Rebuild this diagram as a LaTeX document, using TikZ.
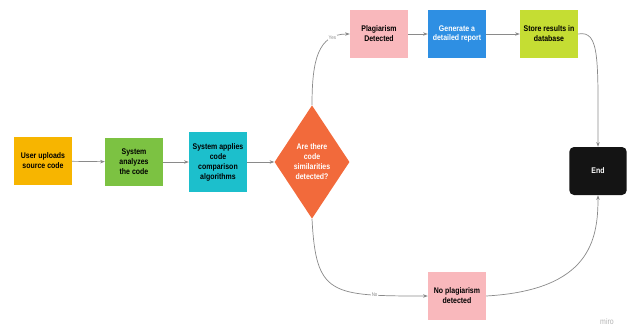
\documentclass[tikz,border=0pt]{standalone}
\usepackage{fontspec}
\setmainfont{Liberation Sans}[FakeStretch=0.85]
\usetikzlibrary{arrows.meta,shapes.geometric}

\definecolor{cyellow}{HTML}{F7B500}
\definecolor{cgreen}{HTML}{7CC242}
\definecolor{ccyan}{HTML}{1CBFCC}
\definecolor{corange}{HTML}{F26A3B}
\definecolor{cpink}{HTML}{F9B8BC}
\definecolor{cblue}{HTML}{2E8FE3}
\definecolor{clime}{HTML}{C5DD33}
\definecolor{cline}{HTML}{8A8A8A}

\tikzset{
    box/.style={rectangle, minimum width=1.74cm, minimum height=1.44cm, inner sep=1pt,
        align=center, font=\fontsize{7}{8.5}\selectfont\bfseries},
    link/.style={draw=cline, line width=0.6pt, -{Stealth[length=4pt,width=3pt]}},
    tag/.style={fill=white, inner sep=0.5pt, text=cline, font=\fontsize{4.5}{5}\selectfont}
}

\begin{document}
\begin{tikzpicture}[x=0.03cm, y=-0.03cm]
        \useasboundingbox (0,0) rectangle (627,331);
        \node[box, fill=cyellow] (a) at (43,161) {User uploads\\source code};
        \node[box, fill=cgreen] (b) at (134,162) {System\\analyzes\\the code};
        \node[box, fill=ccyan, minimum height=1.8cm] (c) at (218,162) {System applies\\code\\comparison\\algorithms};
        \node[diamond, fill=corange, minimum width=2.25cm, minimum height=3.4cm, inner sep=0pt,
            align=center, text=white,
            font=\fontsize{7}{8.5}\selectfont\bfseries] (d) at (312,162) {Are there\\code\\similarities\\detected?};
        \node[box, fill=cpink] (p) at (379,34) {Plagiarism\\Detected};
        \node[box, fill=cblue, text=white] (g) at (457,34) {Generate a\\detailed report};
        \node[box, fill=clime] (s) at (549,34) {Store results in\\database};
        \node[box, fill=cpink] (n) at (457,296) {No plagiarism\\detected};
        \node[box, fill=black!92, text=white, rounded corners=4pt, minimum width=1.72cm] (e) at (598,171) {End};
        \node[text=black!30, font=\fontsize{7}{8}\selectfont] (m) at (607,322) {miro};

        \draw[link] (a) -- (b);
        \draw[link] (b) -- (c);
        \draw[link] (c) -- (d);
        \draw[link] (d.north) .. controls (312,60) and (318,34) .. node[tag, pos=0.78] {Yes} (p.west);
        \draw[link] (p) -- (g);
        \draw[link] (g) -- (s);
        \draw[link] (s.east) .. controls (600,30) and (598,60) .. (e.north);
        \draw[link] (d.south) .. controls (316,295) and (330,296) .. node[tag, pos=0.78] {No} (n.west);
        \draw[link] (n.east) .. controls (590,290) and (598,240) .. (e.south);
    \end{tikzpicture}
\end{document}
